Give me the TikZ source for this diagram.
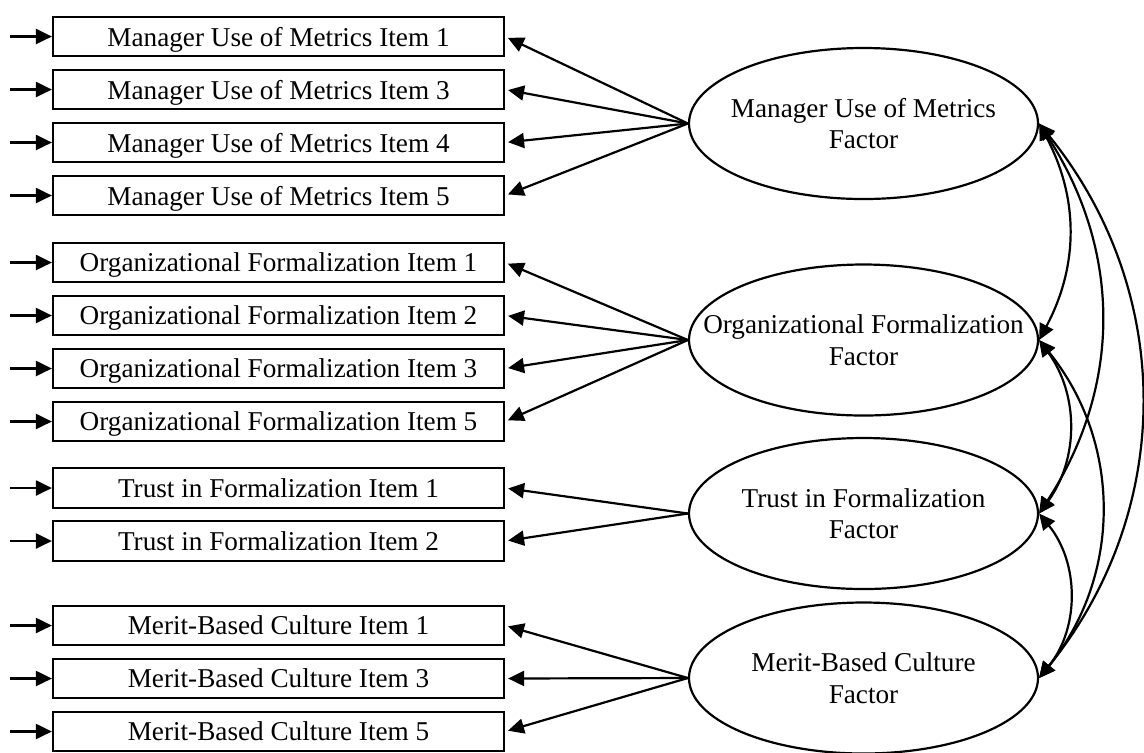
\documentclass[tikz,border=0pt]{standalone}
\usepackage{fontspec}
\setmainfont{Liberation Serif}
\usetikzlibrary{arrows.meta,shapes.geometric}

\begin{document}
\begin{tikzpicture}[x=0.5pt, y=-0.5pt,
    font=\fontsize{13.6}{15.75}\selectfont,
    itembox/.style={draw, line width=1.1pt, minimum width=225.5pt,
      minimum height=19.8pt, inner sep=0pt, text depth=0pt},
    factor/.style={draw, ellipse, line width=1.1pt, minimum width=174.5pt,
      minimum height=75.5pt, inner xsep=-20pt, inner ysep=0pt,
      text depth=-6.5pt, align=center},
    load/.style={line width=1.1pt, -{Triangle[length=8pt,width=7.5pt]}},
    corr/.style={line width=1.1pt,
      {Triangle[length=8pt,width=7.5pt]}-{Triangle[length=8pt,width=7.5pt]}}]
  \useasboundingbox (0,0) rectangle (1144,752);
  % observed items, each with its error input
  \foreach \n/\y/\t in {mu1/36.5/Manager Use of Metrics Item 1,
      mu3/89.5/Manager Use of Metrics Item 3,
      mu4/142.5/Manager Use of Metrics Item 4,
      mu5/195.5/Manager Use of Metrics Item 5,
      of1/262.5/Organizational Formalization Item 1,
      of2/315.5/Organizational Formalization Item 2,
      of3/368.5/Organizational Formalization Item 3,
      of5/421.5/Organizational Formalization Item 5,
      tf1/488/Trust in Formalization Item 1,
      tf2/541/Trust in Formalization Item 2,
      mb1/625.5/Merit-Based Culture Item 1,
      mb3/678.5/Merit-Based Culture Item 3,
      mb5/731.5/Merit-Based Culture Item 5}{
    \node[itembox] (\n) at (278.5,\y) {\t};
    \coordinate (e\n) at (10,\y);
    \draw[load] (e\n) -- (\n.west);}
  % latent factors
  \node[factor] (muF) at (863.5,123.5) {Manager Use of Metrics\\Factor};
  \node[factor] (ofF) at (863.5,340)   {Organizational Formalization\\Factor};
  \node[factor] (tfF) at (863.5,513.5) {Trust in Formalization\\Factor};
  \node[factor] (mbF) at (863.5,678)   {Merit-Based Culture\\Factor};
  % loadings
  \foreach \n in {mu1,mu3,mu4,mu5}
    \draw[load, shorten >=1.5pt] (muF.west) -- (\n.east);
  \foreach \n in {of1,of2,of3,of5}
    \draw[load, shorten >=1.5pt] (ofF.west) -- (\n.east);
  \foreach \n in {tf1,tf2}
    \draw[load, shorten >=1.5pt] (tfF.west) -- (\n.east);
  \foreach \n in {mb1,mb3,mb5}
    \draw[load, shorten >=1.5pt] (mbF.west) -- (\n.east);
  % factor covariances
  \draw[corr] (muF.east) to[bend left=28] (ofF.east);
  \draw[corr] (muF.east) to[bend left=33] (tfF.east);
  \draw[corr] (muF.east) to[bend left=39] (mbF.east);
  \draw[corr] (ofF.east) to[bend left=36] (tfF.east);
  \draw[corr] (ofF.east) to[bend left=39] (mbF.east);
  \draw[corr] (tfF.east) to[bend left=39] (mbF.east);
\end{tikzpicture}
\end{document}
